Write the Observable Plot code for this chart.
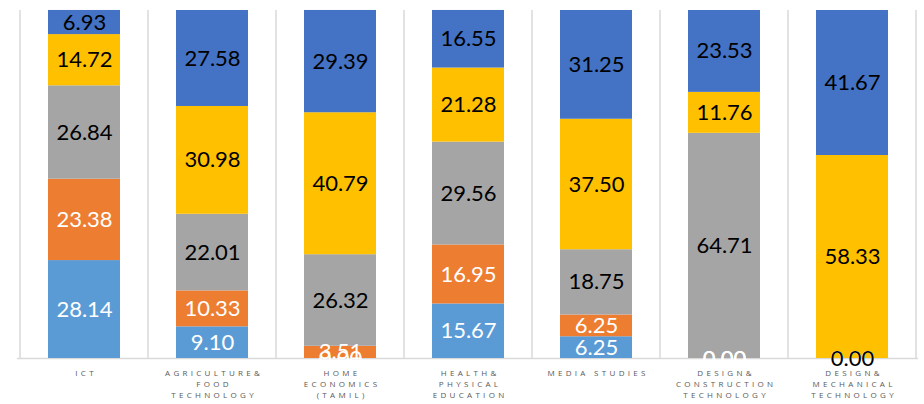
<!DOCTYPE html>
<html>
<head>
<meta charset="utf-8">
<script src="https://cdn.jsdelivr.net/npm/d3@7"></script>
<script src="https://cdn.jsdelivr.net/npm/@observablehq/plot@0.6"></script>
<style>
  html, body { margin: 0; padding: 0; background: #fff; }
  #chart svg { display: block; }
  #chart g[aria-label="x-axis tick label"] text { letter-spacing: 3.3px; }
</style>
</head>
<body>
<div id="chart"></div>
<script>
const categories = ["ICT", "AGRICULTURE& FOOD TECHNOLOGY", "HOME ECONOMICS (TAMIL)", "HEALTH& PHYSICAL EDUCATION", "MEDIA STUDIES", "DESIGN& CONSTRUCTION TECHNOLOGY", "DESIGN& MECHANICAL TECHNOLOGY"];
const tickLabels = ["ICT", "AGRICULTURE&\nFOOD\nTECHNOLOGY", "HOME\nECONOMICS\n(TAMIL)", "HEALTH&\nPHYSICAL\nEDUCATION", "MEDIA STUDIES", "DESIGN&\nCONSTRUCTION\nTECHNOLOGY", "DESIGN&\nMECHANICAL\nTECHNOLOGY"];
const seriesNames = ["S1", "S2", "S3", "S4", "S5"];
const seriesColors = ["#5B9BD5", "#ED7D31", "#A5A5A5", "#FFC000", "#4472C4"];
const labelColors = ["#ffffff", "#ffffff", "#000000", "#000000", "#000000"];
const s1 = [28.14, 9.10, 0.00, 15.67, 6.25, 0.00, 0.00];
const s2 = [23.38, 10.33, 3.51, 16.95, 6.25, 0.00, 0.00];
const s3 = [26.84, 22.01, 26.32, 29.56, 18.75, 64.71, 0.00];
const s4 = [14.72, 30.98, 40.79, 21.28, 37.50, 11.76, 58.33];
const s5 = [6.93, 27.58, 29.39, 16.55, 31.25, 23.53, 41.67];

const seriesValues = [s1, s2, s3, s4, s5];
const data = [];
seriesValues.forEach((vals, si) => {
  vals.forEach((v, ci) => {
    data.push({cat: categories[ci], series: seriesNames[si], value: v, si});
  });
});
const labelMap = new Map(categories.map((c, i) => [c, tickLabels[i]]));

const chart = Plot.plot({
  width: 924,
  height: 404,
  marginLeft: 17,
  marginRight: 6,
  marginTop: 10,
  marginBottom: 46,
  style: {fontFamily: "Lato, 'Open Sans', sans-serif", background: "#fff"},
  x: {domain: categories, paddingInner: 0.44, paddingOuter: 0.22, label: null},
  y: {domain: [0, 100], axis: null},
  color: {domain: seriesNames, range: seriesColors},
  marks: [
    Plot.ruleY([0], {stroke: "#d9d9d9", strokeWidth: 1.5}),
    Plot.barY(data, {x: "cat", y: "value", fill: "series", order: seriesNames}),
    Plot.text(data, Plot.stackY({
      x: "cat", y: "value", z: "series", order: seriesNames,
      text: d => d.value.toFixed(2),
      fill: d => labelColors[d.si],
      fontSize: 22,
      fontFamily: "Lato, sans-serif"
    })),
    Plot.axisX({
      tickSize: 0,
      tickPadding: 10,
      fontSize: 8,
      lineHeight: 1.38,
      dx: 1.6,
      fill: "#595959",
      fontFamily: "'Open Sans', sans-serif",
      tickFormat: d => labelMap.get(d),
      label: null
    })
  ]
});

// category separators, placed from the band scale
const xs = chart.scale("x");
const ys = chart.scale("y");
const gap = (xs.step - xs.bandwidth) / 2;
const edges = categories.map(c => xs.apply(c) - gap);
edges.push(xs.apply(categories[categories.length - 1]) + xs.bandwidth + gap);
const svg = d3.select(chart);
const g = svg.insert("g", ":first-child").attr("aria-label", "separators");
g.selectAll("line").data(edges).join("line")
  .attr("x1", d => d).attr("x2", d => d)
  .attr("y1", ys.apply(100)).attr("y2", ys.apply(0))
  .attr("stroke", "#d9d9d9").attr("stroke-width", 1.5);
svg.insert("rect", ":first-child").attr("width", 924).attr("height", 404).attr("fill", "#fff");

document.getElementById("chart").appendChild(chart);
</script>
</body>
</html>
